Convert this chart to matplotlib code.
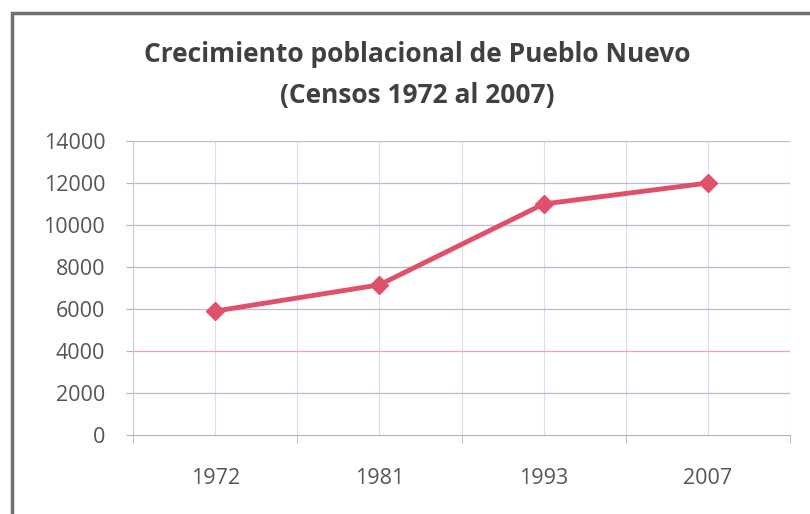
import matplotlib
matplotlib.use("Agg")
import matplotlib.pyplot as plt
from matplotlib.patches import Rectangle
import numpy as np

years = ["1972", "1981", "1993", "2007"]
population = [5900, 7150, 11000, 12000]
yticks = [0, 2000, 4000, 6000, 8000, 10000, 12000, 14000]

plt.rcParams['font.family'] = ['Open Sans', 'DejaVu Sans']

fig = plt.figure(figsize=(8.1, 5.14), dpi=100)
fig.patch.set_facecolor('white')
W, H = 810, 514
ax = fig.add_axes([133 / W, 1 - 435 / H, (790 - 133) / W, (435 - 141) / H])

x = np.arange(len(years))
ax.plot(x, population, color='#E0506A', lw=3.5, marker='D', ms=9,
        markerfacecolor='#E0506A', markeredgecolor='#E0506A', zorder=3)

ax.set_xlim(-0.5, len(years) - 0.5)
ax.set_ylim(0, 14000)
ax.set_yticks(yticks)
ax.set_yticklabels([str(v) for v in yticks])
ax.set_xticks(x)
ax.set_xticklabels(years)
ax.set_xticks(np.arange(-0.5, len(years), 1.0), minor=True)

for v in yticks[1:]:
    col = '#F0A0B0' if v == 4000 else '#B8BCCF'
    ax.axhline(v, color=col, lw=0.9, zorder=1)
for xv in np.arange(-0.5, len(years), 0.5):
    ax.axvline(xv, color='#DADDEA', lw=0.8, zorder=0)

for s in ['top', 'right']:
    ax.spines[s].set_visible(False)
ax.spines['left'].set_color('#C8CAD4')
ax.spines['bottom'].set_color('#B0B3C0')

ax.tick_params(axis='y', length=5, color='#B0B3C0', labelsize=15.5, labelcolor='#555555', pad=15)
ax.tick_params(axis='x', which='major', length=0, labelsize=15.5, labelcolor='#555555', pad=24)
ax.tick_params(axis='x', which='minor', length=6, color='#B0B3C0')

fig.text(417 / W, 1 - 55 / H, "Crecimiento poblacional de Pueblo Nuevo",
         ha='center', va='center', fontsize=19, fontweight='bold', color='#404040')
fig.text(417 / W, 1 - 95 / H, "(Censos 1972 al 2007)",
         ha='center', va='center', fontsize=19, fontweight='bold', color='#404040')

fig.patches.append(Rectangle((12 / W, -0.1), 1.2, 1 - 13 / H + 0.1,
                             transform=fig.transFigure, fill=False,
                             edgecolor='#707070', lw=2.5))

fig.savefig('out.png', dpi=100)
